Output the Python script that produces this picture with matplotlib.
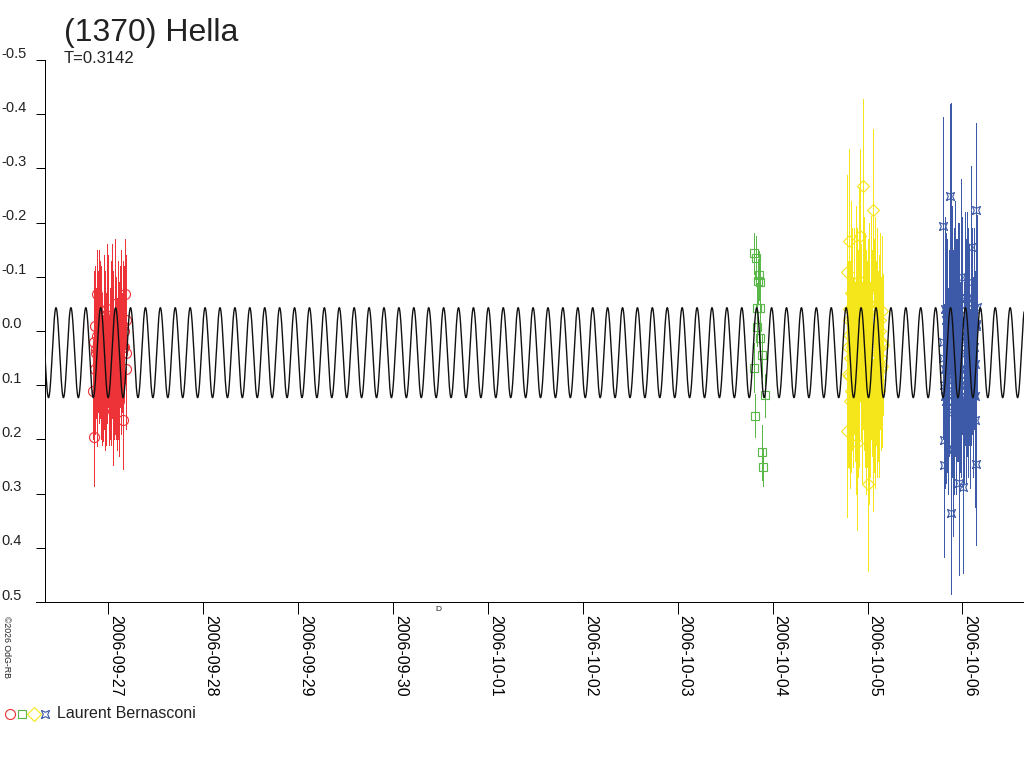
import numpy as np
import matplotlib
matplotlib.use('Agg')
import matplotlib.pyplot as plt
from matplotlib.lines import Line2D
from matplotlib.transforms import offset_copy

plt.rcParams['font.family'] = ['Liberation Sans', 'DejaVu Sans']

# time in days since 2006-09-27 00:00 UT, magnitude relative to mean
date_labels = ['2006-09-27', '2006-09-28', '2006-09-29', '2006-09-30', '2006-10-01',
               '2006-10-02', '2006-10-03', '2006-10-04', '2006-10-05', '2006-10-06']
mag_ticks = [-0.5, -0.4, -0.3, -0.2, -0.1, 0.0, 0.1, 0.2, 0.3, 0.4, 0.5]

# model: period T (double peaked), mean level, half amplitude, epoch of max
period = 0.3142
mag_mean = 0.040
mag_amp = 0.083
epoch_max = 2.905

red_t = [-0.160, -0.152, -0.145, -0.137, -0.130, -0.122, -0.114, -0.106, -0.098, -0.090,
         -0.082, -0.074, -0.066, -0.058, -0.050, -0.042, -0.034, -0.026, -0.018, -0.010,
         -0.002, 0.006, 0.014, 0.022, 0.030, 0.038, 0.046, 0.054, 0.062, 0.070,
         0.078, 0.086, 0.094, 0.102, 0.110, 0.118, 0.126, 0.134, 0.142, 0.150,
         0.158, 0.166, 0.174, 0.182, 0.190,
         -0.148, -0.133, -0.118, -0.102, -0.086, -0.070, -0.054, -0.038, -0.022, -0.006,
         0.010, 0.026, 0.042, 0.058, 0.074, 0.090, 0.106, 0.122, 0.138, 0.154,
         0.170, 0.186]
red_mag = [0.110, 0.196, 0.070, -0.010, 0.033, -0.069, 0.113, 0.020, 0.050, -0.030,
           0.090, 0.000, 0.060, 0.113, -0.020, 0.080, 0.030, 0.100, -0.040, 0.070,
           0.010, 0.120, 0.040, 0.090, -0.010, 0.060, 0.147, 0.020, 0.080, -0.050,
           0.100, 0.030, 0.060, -0.020, 0.130, 0.050, 0.000, 0.090, 0.040, 0.165,
           -0.010, 0.030, -0.069, 0.070, -0.020,
           0.02, 0.04, 0.01, -0.03, 0.03, 0.11, 0.08, 0.13, 0.06, -0.02,
           0.08, 0.11, -0.03, 0.10, 0.06, 0.12, 0.08, 0.02, -0.04, 0.03,
           0.00, 0.04]
red_err = [0.09, 0.09, 0.12, 0.11, 0.10, 0.08, 0.10, 0.13, 0.12, 0.10,
           0.11, 0.12, 0.13, 0.09, 0.12, 0.10, 0.14, 0.11, 0.12, 0.10,
           0.13, 0.09, 0.12, 0.11, 0.12, 0.10, 0.10, 0.13, 0.11, 0.12,
           0.10, 0.13, 0.12, 0.11, 0.10, 0.14, 0.12, 0.10, 0.11, 0.09,
           0.12, 0.10, 0.10, 0.11, 0.12,
           0.13, 0.12, 0.14, 0.12, 0.13, 0.10, 0.11, 0.09, 0.13, 0.12,
           0.11, 0.10, 0.13, 0.10, 0.13, 0.10, 0.12, 0.12, 0.11, 0.13,
           0.12, 0.11]

green_t = [6.804, 6.825, 6.860, 6.843, 6.870, 6.832, 6.867, 6.839, 6.870, 6.888,
           6.804, 6.917, 6.818, 6.888, 6.896]
green_mag = [-0.143, -0.135, -0.103, -0.092, -0.090, -0.043, -0.042, -0.008, 0.013, 0.045,
             0.068, 0.119, 0.156, 0.224, 0.251]
green_err = [0.037, 0.040, 0.045, 0.040, 0.035, 0.045, 0.040, 0.035, 0.040, 0.040,
             0.045, 0.040, 0.040, 0.050, 0.035]

yellow_t = [7.949, 8.055, 7.808, 7.921, 7.787, 7.914, 8.040, 8.150, 7.802, 8.160,
            8.150, 7.802, 7.787, 8.019, 8.061, 7.886, 8.002,
            7.795, 7.810, 7.825, 7.835, 7.845, 7.855, 7.865, 7.875, 7.895, 7.905,
            7.930, 7.940, 7.960, 7.970, 7.980, 7.990, 8.010, 8.030, 8.045, 8.070,
            8.080, 8.090, 8.100, 8.110, 8.120, 8.130, 8.140,
            7.790, 7.800, 7.815, 7.820, 7.830, 7.840, 7.850, 7.860, 7.870, 7.880,
            7.890, 7.900, 7.910, 7.925, 7.935, 7.945, 7.955, 7.965, 7.975, 7.985,
            7.995, 8.005, 8.015, 8.025, 8.035, 8.050, 8.065, 8.075, 8.085, 8.095,
            8.105, 8.115, 8.125, 8.135, 8.145, 8.155]
yellow_mag = [-0.268, -0.223, -0.166, -0.175, -0.108, -0.095, -0.062, -0.036, 0.007, 0.025,
              0.064, 0.083, 0.184, 0.170, 0.192, 0.207, 0.282,
              0.030, -0.040, 0.110, -0.020, 0.060, 0.000, 0.090, -0.060, 0.040, 0.120,
              0.010, 0.070, -0.030, 0.100, 0.020, 0.060, -0.010, 0.080, 0.030, 0.110,
              -0.040, 0.050, 0.000, 0.090, 0.030, -0.020, 0.070,
              0.08, -0.02, 0.05, 0.13, -0.07, 0.03, 0.10, -0.01, 0.07, 0.12,
              -0.04, 0.02, 0.09, -0.06, 0.05, 0.11, 0.00, 0.06, -0.03, 0.13,
              0.04, 0.08, -0.05, 0.10, 0.01, 0.07, -0.02, 0.12, 0.03, 0.09,
              -0.04, 0.06, 0.11, 0.00, 0.05, 0.02]
yellow_err = [0.16, 0.15, 0.17, 0.16, 0.18, 0.17, 0.15, 0.14, 0.18, 0.13,
              0.15, 0.17, 0.16, 0.15, 0.14, 0.16, 0.16,
              0.16, 0.18, 0.15, 0.17, 0.16, 0.19, 0.15, 0.17, 0.18, 0.15,
              0.17, 0.16, 0.18, 0.15, 0.17, 0.19, 0.16, 0.17, 0.18, 0.15,
              0.17, 0.16, 0.18, 0.15, 0.17, 0.16, 0.15,
              0.17, 0.15, 0.18, 0.16, 0.17, 0.19, 0.15, 0.17, 0.16, 0.18,
              0.15, 0.17, 0.16, 0.19, 0.15, 0.17, 0.18, 0.16, 0.15, 0.17,
              0.16, 0.18, 0.15, 0.17, 0.19, 0.16, 0.15, 0.17, 0.16, 0.18,
              0.15, 0.17, 0.16, 0.18, 0.15, 0.14]

blue_t = [8.869, 8.792, 9.143, 9.087, 9.151, 9.143, 8.877, 8.809, 8.898, 8.809,
          9.143, 8.967, 9.010, 8.877, 9.130,
          8.800, 8.815, 8.825, 8.835, 8.845, 8.855, 8.885, 8.895, 8.905, 8.915,
          8.925, 8.935, 8.945, 8.955, 8.975, 8.985, 8.995, 9.020, 9.030, 9.040,
          9.050, 9.060, 9.070, 9.080, 9.095, 9.105, 9.115, 9.125, 9.135,
          8.797, 8.805, 8.812, 8.820, 8.830, 8.840, 8.850, 8.860, 8.872, 8.890,
          8.900, 8.910, 8.920, 8.930, 8.940, 8.950, 8.960, 8.970, 8.980, 8.990,
          9.000, 9.015, 9.025, 9.035, 9.045, 9.055, 9.065, 9.075, 9.090, 9.100,
          9.110, 9.120, 9.130, 9.140]
blue_mag = [-0.249, -0.194, -0.224, -0.155, -0.044, -0.013, 0.000, 0.201, 0.218, 0.247,
            0.245, 0.281, 0.287, 0.335, 0.164,
            0.050, 0.120, -0.020, 0.080, 0.150, 0.030, 0.100, -0.050, 0.060, 0.130,
            -0.080, 0.020, 0.090, -0.030, 0.070, -0.100, 0.040, 0.110, -0.060, 0.010,
            0.080, -0.020, 0.050, 0.140, -0.090, 0.030, 0.090, -0.040, 0.060,
            0.02, 0.10, -0.04, 0.07, 0.13, -0.01, 0.09, 0.04, -0.07, 0.11,
            0.03, -0.02, 0.08, 0.14, 0.00, 0.06, -0.05, 0.10, 0.02, 0.12,
            -0.03, 0.07, 0.04, 0.13, -0.06, 0.09, 0.01, 0.11, 0.05, -0.02,
            0.08, 0.03, 0.12, -0.01]
blue_err = [0.17, 0.20, 0.16, 0.15, 0.17, 0.15, 0.42, 0.18, 0.16, 0.17,
            0.15, 0.17, 0.16, 0.15, 0.16,
            0.15, 0.17, 0.16, 0.18, 0.15, 0.17, 0.16, 0.18, 0.15, 0.17,
            0.16, 0.19, 0.15, 0.17, 0.16, 0.18, 0.15, 0.17, 0.16, 0.18,
            0.15, 0.17, 0.16, 0.15, 0.17, 0.16, 0.18, 0.15, 0.17,
            0.16, 0.15, 0.17, 0.18, 0.15, 0.16, 0.17, 0.19, 0.15, 0.16,
            0.18, 0.17, 0.15, 0.16, 0.17, 0.18, 0.15, 0.16, 0.17, 0.15,
            0.18, 0.16, 0.17, 0.15, 0.16, 0.18, 0.17, 0.15, 0.16, 0.17,
            0.18, 0.15, 0.16, 0.17]

observer = 'Laurent Bernasconi'

RED = '#ee3338'
GREEN = '#5ab848'
YELLOW = '#f5e61c'
BLUE = '#3d5aa8'
px = 0.72  # one pixel in points at dpi 100

# concave square marker used for the 4th session
star_sq = [(-1, -1), (0, -0.55), (1, -1), (0.55, 0), (1, 1), (0, 0.55),
           (-1, 1), (-0.55, 0), (-1, -1)]

fig = plt.figure(figsize=(10.24, 7.68), dpi=100)
W, H = 1024.0, 768.0
ax_l, ax_r, ax_t, ax_b = 45, 1024, 60, 602
ax = fig.add_axes([ax_l / W, 1 - ax_b / H, (ax_r - ax_l) / W, (ax_b - ax_t) / H])

sessions = [
    (red_t, red_mag, red_err, RED, 'o', 7.2),
    (green_t, green_mag, green_err, GREEN, 's', 5.5),
    (yellow_t, yellow_mag, yellow_err, YELLOW, 'D', 6.0),
    (blue_t, blue_mag, blue_err, BLUE, star_sq, 5.8),
]
for t, m, e, c, mk, ms in sessions:
    eb = ax.errorbar(t, m, yerr=e, fmt='none', ecolor=c, elinewidth=px, capsize=0, zorder=2)
    for col in eb[2]:
        col.set_antialiased(False)
    ax.plot(t, m, ls='none', marker=mk, ms=ms, mfc='none', mec=c, mew=px + 0.1, zorder=3)

x_min, x_max = -0.667, 9.649
tt = np.linspace(x_min, x_max, 6000)
model = mag_mean - mag_amp * np.cos(4 * np.pi * (tt - epoch_max) / period)
ax.plot(tt, model, color='#111111', lw=1.0, zorder=4)

ax.set_xlim(x_min, x_max)
ax.set_ylim(0.5, -0.5)
for s in ['top', 'right']:
    ax.spines[s].set_visible(False)
for s in ['left', 'bottom']:
    ax.spines[s].set_linewidth(px)
ax.set_yticks(mag_ticks)
ax.set_yticklabels([])
ax.tick_params(axis='y', length=6.5, width=px, direction='out')
ax.set_xticks(range(len(date_labels)))
ax.set_xticklabels(date_labels, rotation=270, ha='left', va='top', fontsize=11.5)
ax.tick_params(axis='x', length=8.6, width=px, direction='out', pad=1)

# y labels sit just above their tick marks
ytr = offset_copy(ax.get_yaxis_transform(), fig=fig, x=0, y=2.5, units='dots')
for v in mag_ticks:
    ax.text(-44 / (ax_r - ax_l), v, f'{v:.1f}', transform=ytr, ha='left', va='baseline',
            fontsize=10.5, color='#222222')

# bottom line runs a bit past the vertical axis
fig.add_artist(Line2D([36 / W, ax_l / W], [1 - ax_b / H, 1 - ax_b / H], color='black', lw=px))

fig.text(64 / W, 1 - 41 / H, '(1370) Hella', fontsize=23, color='#222222', va='baseline')
fig.text(64 / W, 1 - 63 / H, f'T={period}', fontsize=12, color='#222222', va='baseline')
fig.text(438 / W, 1 - 611 / H, 'D', fontsize=6, color='#222222', ha='center', va='baseline')
fig.text(2 / W, 1 - 616 / H, '\u00a92026 OdG-RB', fontsize=6.3, rotation=270,
         ha='left', va='top', color='#222222')

# legend row
leg_y = 1 - 714 / H
for xp, c, mk, ms in [(9.7, RED, 'o', 7.2), (21.7, GREEN, 's', 5.5),
                      (33.7, YELLOW, 'D', 6.7), (45, BLUE, star_sq, 5.8)]:
    fig.add_artist(Line2D([xp / W], [leg_y], ls='none', marker=mk, ms=ms, mfc='none',
                          mec=c, mew=px + 0.1))
fig.text(57 / W, leg_y, observer, fontsize=11.5, va='center', color='#222222')

fig.savefig('out.png', dpi=100)
